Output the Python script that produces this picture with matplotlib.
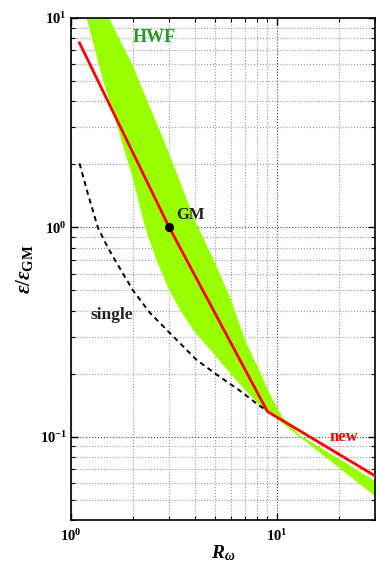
import numpy as np
import matplotlib
matplotlib.use('Agg')
import matplotlib.pyplot as plt
from matplotlib.ticker import LogLocator, FuncFormatter, NullFormatter

plt.rcParams['font.family'] = 'Liberation Serif'
plt.rcParams['font.weight'] = 'bold'
plt.rcParams['mathtext.fontset'] = 'custom'
plt.rcParams['mathtext.rm'] = 'Liberation Serif:bold'
plt.rcParams['mathtext.it'] = 'Liberation Serif:bold:italic'
plt.rcParams['mathtext.bf'] = 'Liberation Serif:bold'

# HWF band, upper and lower edges
hwf_upper_x = [1.19, 1.53, 2.0, 3.0, 4.0, 5.0, 6.0, 7.0, 8.0, 9.0, 10.1, 10.7, 12.9, 30]
hwf_upper_y = [17.6, 10, 5.9, 2.25, 1.08, 0.68, 0.45, 0.29, 0.22, 0.17, 0.135, 0.1235, 0.102, 0.0615]
hwf_lower_x = [1.19, 1.45, 1.69, 2.0, 2.29, 2.6, 2.95, 3.4, 4.0, 4.75, 6.5, 8.4, 9.5, 12.9, 30]
hwf_lower_y = [10, 4.8, 2.97, 1.7, 1.0, 0.70, 0.52, 0.40, 0.315, 0.26, 0.181, 0.139, 0.127, 0.100, 0.052]

# single (dashed)
single_x = [1.1, 1.2, 1.35, 1.5, 1.67, 2.0, 2.42, 3.0, 3.38, 4.07, 5.1, 6.5, 8.27, 8.8]
single_y = [2.02, 1.48, 1.0, 0.81, 0.674, 0.50, 0.39, 0.315, 0.28, 0.233, 0.198, 0.168, 0.14, 0.135]

# new model (red)
new_x = [1.1, 3.0, 9.0, 30]
new_y = [7.6, 1.0, 0.132, 0.065]

gm_x, gm_y = 3.0, 1.0

fig = plt.figure(figsize=(3.76, 5.61), dpi=100)
ax = fig.add_axes([0.1888, 0.0731, 0.8085, 0.8949])
ax.set_xscale('log')
ax.set_yscale('log')

band_x = hwf_upper_x + hwf_lower_x[::-1]
band_y = hwf_upper_y + hwf_lower_y[::-1]
ax.fill(band_x, band_y, color='#99ff00', lw=0, zorder=2)

ax.plot(single_x, single_y, color='k', lw=1.4, dashes=(2.6, 2.1), zorder=3)
ax.plot(new_x, new_y, color='#ff0000', lw=2, zorder=4)
ax.plot([gm_x], [gm_y], 'o', color='k', ms=5.5, zorder=5)

ax.text(2.53, 8.06, 'HWF', color='#229a22', fontsize=13, ha='center', va='center')
ax.text(3.23, 1.09, 'GM', color='#222222', fontsize=12, ha='left', va='baseline')
ax.text(1.586, 0.382, 'single', color='#222222', fontsize=12.5, ha='center', va='center')
ax.text(18.1, 0.0953, 'new', color='#ff0000', fontsize=12, ha='left', va='baseline')

ax.set_xlim(1, 30)
ax.set_ylim(0.04, 10)

for axis in (ax.xaxis, ax.yaxis):
    axis.set_major_locator(LogLocator(base=10))
    axis.set_minor_locator(LogLocator(base=10, subs=np.arange(2, 10)))
    axis.set_major_formatter(FuncFormatter(lambda v, p: r'$\mathbf{10^{%d}}$' % round(np.log10(v))))
    axis.set_minor_formatter(NullFormatter())

ax.tick_params(which='both', direction='in', top=True, right=True, labelsize=10.5)
ax.tick_params(which='major', length=5, width=1)
ax.tick_params(which='minor', length=3, width=0.8)
ax.tick_params(axis='x', pad=6)
ax.tick_params(axis='y', pad=3)

ax.grid(which='major', color='0.25', linestyle=':', lw=0.8)
ax.grid(which='minor', color='0.6', linestyle=':', lw=0.8)
ax.set_axisbelow(True)

for s in ax.spines.values():
    s.set_linewidth(1.2)

ax.set_xlabel(r'$R_{\omega}$', fontsize=14, labelpad=-1)
ax.set_ylabel(r'$\varepsilon/\varepsilon_{\mathbf{GM}}$', fontsize=15, labelpad=3)

fig.savefig('out.png', dpi=100)
